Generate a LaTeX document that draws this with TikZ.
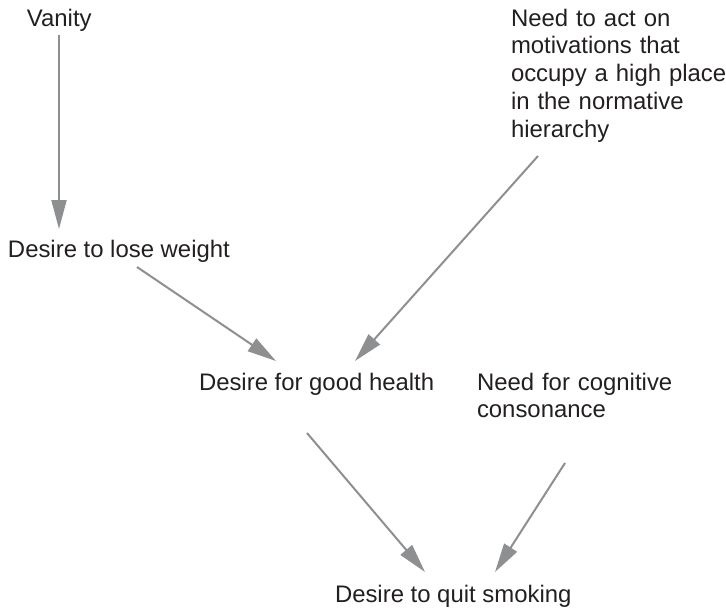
\documentclass[tikz,border=0pt]{standalone}
\usepackage{fontspec}
\setmainfont{Liberation Sans}
\usetikzlibrary{arrows.meta,calc}
\definecolor{inkdark}{RGB}{35,31,32}
\definecolor{arrowgrey}{RGB}{142,143,145}
\begin{document}
\begin{tikzpicture}[x=1pt,y=-1pt,
  label/.style={anchor=base west,inner sep=0pt,outer sep=0pt,text=inkdark,
    font=\fontsize{23.9}{27.8}\selectfont},
  block/.style={label,text width=#1,align=left},
  link/.style={draw=arrowgrey,line width=2pt,
    -{Triangle[length=29pt,width=15pt]},arrowgrey}]
  \path[use as bounding box] (0,0) rectangle (726,608);

  % motivations
  \node[block=300pt] (norm) at (511,26)
    {Need to act on\\motivations that\\occupy a high place\\in the normative\\hierarchy};
  \node[label] (vanity) at (27,26) {Vanity};
  \node[label] (lose) at (8,257) {Desire to lose weight};
  \node[label] (health) at (199,390) {Desire for good health};
  \node[block=300pt] (cons) at (477,390) {Need for cognitive\\consonance};
  \node[label] (quit) at (335,602) {Desire to quit smoking};

  % influences
  \draw[link] ($(vanity.base west)+(32,9)$) -- ($(lose.base west)+(51,-28)$);
  \draw[link] ($(lose.base west)+(129,10)$) -- ($(health.base west)+(77,-29)$);
  \draw[link] ($(norm.base west)+(27,130)$) -- ($(health.base west)+(156,-29)$);
  \draw[link] ($(health.base west)+(108,43)$) -- ($(quit.base west)+(90,-30)$);
  \draw[link] ($(cons.base west)+(88,73)$) -- ($(quit.base west)+(160,-30)$);
\end{tikzpicture}
\end{document}
